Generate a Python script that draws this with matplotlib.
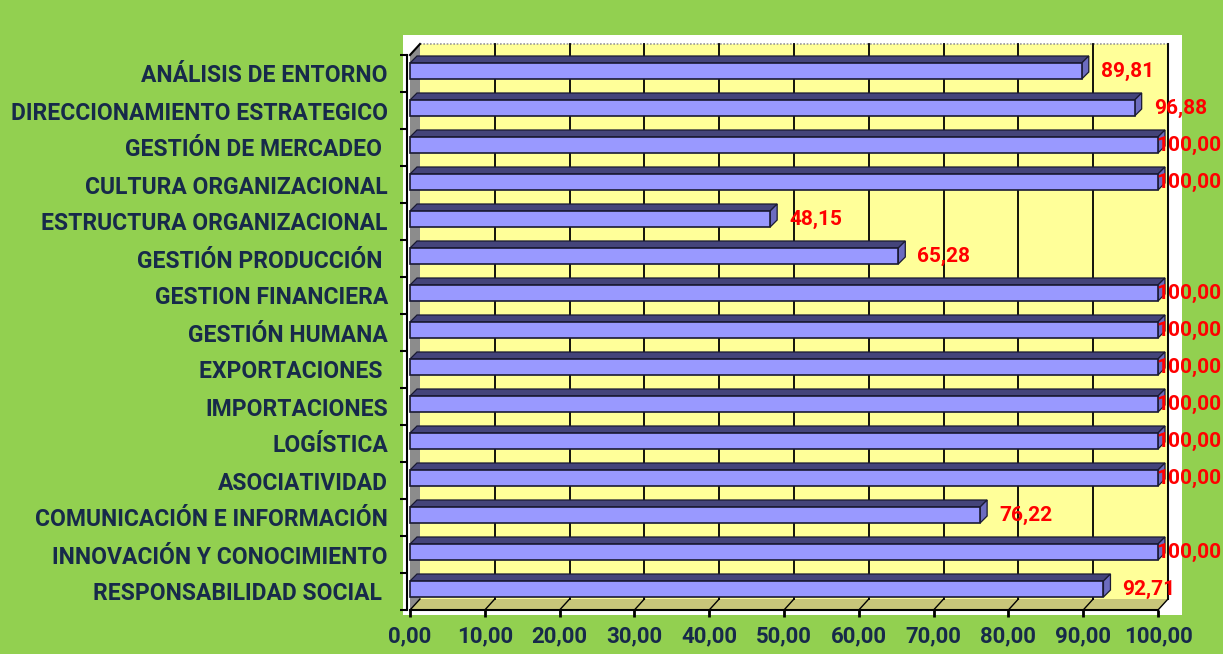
import matplotlib
matplotlib.use("Agg")
import matplotlib.pyplot as plt
from matplotlib.patches import Rectangle, Polygon

categories = ["ANÁLISIS DE ENTORNO", "DIRECCIONAMIENTO ESTRATEGICO", "GESTIÓN DE MERCADEO ",
              "CULTURA ORGANIZACIONAL", "ESTRUCTURA ORGANIZACIONAL", "GESTIÓN PRODUCCIÓN ",
              "GESTION FINANCIERA", "GESTIÓN HUMANA", "EXPORTACIONES ", "IMPORTACIONES",
              "LOGÍSTICA", "ASOCIATIVIDAD", "COMUNICACIÓN E INFORMACIÓN",
              "INNOVACIÓN Y CONOCIMIENTO", "RESPONSABILIDAD SOCIAL "]
values = [89.81, 96.88, 100.00, 100.00, 48.15, 65.28, 100.00, 100.00, 100.00, 100.00,
          100.00, 100.00, 76.22, 100.00, 92.71]
xticks = [0, 10, 20, 30, 40, 50, 60, 70, 80, 90, 100]

FONT = ["Roboto", "Liberation Sans", "DejaVu Sans"]
NAVY = "#172a4a"

W, H = 1223, 654
fig = plt.figure(figsize=(W / 100, H / 100), dpi=100)
fig.patch.set_facecolor("#92d050")

# white chart area behind the plot
bg = fig.add_axes([403 / W, 1 - 615 / H, (1182 - 403) / W, (615 - 35) / H])
bg.set_facecolor("white")
bg.set_xticks([])
bg.set_yticks([])
for s in bg.spines.values():
    s.set_visible(False)
bg.set_zorder(0)

n = len(categories)
ax = fig.add_axes([410 / W, 1 - 610 / H, 748 / W, 555 / H])
ax.set_zorder(1)
ax.set_facecolor("none")
ax.set_xlim(0, 100)
ax.set_ylim(n - 0.5, -0.5)

# 3d depth offsets in data units
pxx = 100 / 748
pxy = 1 / 37
dxw, dyw = 10 * pxx, 11 * pxy      # walls
dxb, dyb = 7 * pxx, 7 * pxy        # bars
bar_h = 16 * pxy
shift = -2.5 * pxy

top, bot = -0.5, n - 0.5
# back wall
ax.add_patch(Rectangle((dxw, top - dyw), 100, n, facecolor="#ffff99", edgecolor="none",
                       zorder=1, clip_on=False))
ax.plot([dxw, 100 + dxw], [top - dyw, top - dyw], color="#999999", lw=1.2, ls=(0, (1, 1)),
        zorder=2, clip_on=False)
ax.plot([100 + dxw, 100 + dxw], [top - dyw, bot - dyw], color="#777777", lw=1.5, zorder=2,
        clip_on=False)
# left wall
ax.add_patch(Polygon([(0, top), (dxw, top - dyw), (dxw, bot - dyw), (0, bot)],
                     facecolor="#8c8c8c", edgecolor="none", zorder=1, clip_on=False))
# floor
ax.add_patch(Polygon([(0, bot), (100, bot), (100 + dxw, bot - dyw), (dxw, bot - dyw)],
                     facecolor="#c8c67a", edgecolor="none", zorder=1, clip_on=False))
ax.plot([0, dxw], [top, top - dyw], color="black", lw=1.5, zorder=2, clip_on=False)
for t in xticks:
    if t > 0:
        ax.plot([t + dxw, t + dxw], [top - dyw, bot - dyw], color="black", lw=1.3, zorder=2,
                clip_on=False)
    ax.plot([t, t + dxw], [bot, bot - dyw], color="black", lw=1.0, zorder=2, clip_on=False)

# bars
for i, v in enumerate(values):
    c = i + shift
    y0, y1 = c - bar_h / 2, c + bar_h / 2
    ax.add_patch(Polygon([(0, y0), (v, y0), (v + dxb, y0 - dyb), (dxb, y0 - dyb)],
                         facecolor="#44447a", edgecolor="#1a1a33", lw=0.9, zorder=3,
                         clip_on=False))
    ax.add_patch(Polygon([(v, y0), (v, y1), (v + dxb, y1 - dyb), (v + dxb, y0 - dyb)],
                         facecolor="#6c6cc0", edgecolor="#1a1a33", lw=0.9, zorder=3,
                         clip_on=False))
    ax.add_patch(Rectangle((0, y0), v, bar_h, facecolor="#9999ff", edgecolor="#1a1a33",
                           lw=1.2, zorder=4, clip_on=False))
    ax.text(min(v + 2.55, 99.8), c, f"{v:.2f}".replace(".", ","), color="red",
            fontsize=15, fontweight="bold", family=FONT, ha="left", va="center",
            zorder=6, clip_on=False)

# axes
for s in ["top", "right"]:
    ax.spines[s].set_visible(False)
ax.spines["left"].set_zorder(5)
ax.spines["left"].set_linewidth(1.5)
ax.spines["bottom"].set_linewidth(1.5)
ax.spines["left"].set_position(("outward", 2))

ax.set_xticks(xticks)
ax.set_xticklabels([f"{t:.2f}".replace(".", ",") for t in xticks], family=FONT,
                   fontsize=16, fontweight="bold", color=NAVY)
ax.tick_params(axis="x", direction="out", length=5, width=2, pad=6)

ax.set_yticks(range(n))
ax.set_yticklabels(categories, family=FONT, fontsize=16.5, fontweight="bold", color=NAVY)
ax.set_yticks([k - 0.5 for k in range(n + 1)], minor=True)
ax.tick_params(axis="y", which="major", length=0, pad=14)
ax.tick_params(axis="y", which="minor", direction="out", length=5, width=1.5)

fig.savefig("out.png", dpi=100, facecolor=fig.get_facecolor())
